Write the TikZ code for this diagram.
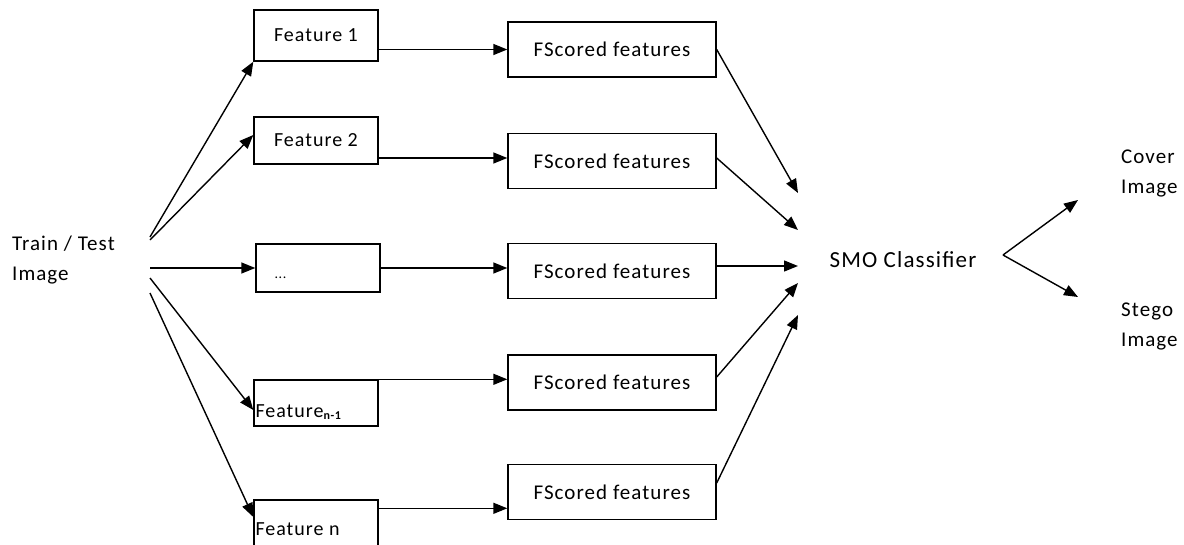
\documentclass[tikz,border=0pt]{standalone}
\usepackage{fontspec}
\setmainfont{Carlito}[LetterSpace=5]
\usetikzlibrary{arrows.meta,calc}
\begin{document}
\begin{tikzpicture}[x=1pt,y=-1pt,
  fbox/.style={draw,line width=1.4pt,inner sep=0pt,minimum width=124pt,font=\fontsize{20}{22}\selectfont},
  sbox/.style={draw,line width=1.4pt,inner sep=0pt,minimum width=208pt,minimum height=55pt,font=\fontsize{21}{24}\selectfont},
  lbl/.style={inner sep=0pt,align=left,font=\fontsize{21}{30}\selectfont},
  arr/.style={line width=1.4pt,-{Triangle[length=14pt,width=11pt]}}]
\useasboundingbox (0,0) rectangle (1184,544);
% input
\node[lbl,anchor=west] (train) at (12,260) {Train / Test\\Image};
% feature boxes
\node[fbox,minimum height=51pt] (F1) at (316,35.5) {Feature 1};
\node[fbox,minimum height=47pt] (F2) at (316,140.5) {Feature 2};
\node[fbox,minimum height=48pt] (F3) at (318,268) {};
\node[fbox,minimum height=46pt] (Fn1) at (316,403) {};
\node[fbox,minimum height=47pt] (Fn) at (316,523.5) {};
\node[inner sep=0pt,anchor=base west,font=\fontsize{14}{16}\selectfont] (F3t) at ($(F3.south west)+(19,-14)$) {...};
\node[inner sep=0pt,anchor=base west,font=\fontsize{20}{22}\selectfont] (Fn1t) at ($(Fn1.south west)+(2,-9)$) {Feature\raisebox{-2pt}{\fontsize{12}{12}\selectfont\bfseries n-1}};
\node[inner sep=0pt,anchor=base west,font=\fontsize{20}{22}\selectfont] (Fnt) at ($(Fn.south west)+(2,-12)$) {Feature n};
% FScored boxes
\node[sbox] (FS1) at (612,49.5) {FScored features};
\node[sbox] (FS2) at (612,161) {FScored features};
\node[sbox] (FS3) at (612,271) {FScored features};
\node[sbox] (FS4) at (612,382.5) {FScored features};
\node[sbox] (FS5) at (612,492) {FScored features};
% classifier and outputs
\node[inner sep=0pt,font=\fontsize{23}{26}\selectfont] (smo) at (903,260) {SMO Classifier};
\node[lbl,anchor=west] (cover) at (1121,173) {Cover\\Image};
\node[lbl,anchor=west] (stego) at (1121,326) {Stego\\Image};
% train -> features
\draw[arr] ($(train.west)+(138,-23)$) -- (F1.south west);
\draw[arr] ($(train.west)+(138,-20)$) -- ($(F2.west)+(0,-5.5)$);
\draw[arr] ($(train.west)+(138,8)$) -- (F3.west);
\draw[arr] ($(train.west)+(138,18)$) -- ($(Fn1.west)+(0,7)$);
\draw[arr] ($(train.west)+(138,33)$) -- ($(Fn.west)+(0,-6.5)$);
% features -> FScored
\draw[arr] (F1.east |- FS1.west) -- (FS1.west);
\draw[arr] ($(F2.east |- FS2.west)+(0,-3)$) -- ($(FS2.west)+(0,-3)$);
\draw[arr] (F3.east) -- (F3.east -| FS3.west);
\draw[arr] (Fn1.north east) -- (Fn1.north east -| FS4.west);
\coordinate (fnr) at ($(Fn.north east)+(0,9)$);
\draw[arr] (fnr) -- (fnr -| FS5.west);
% FScored -> SMO
\draw[arr] (FS1.east) -- ($(smo.center)+(-105,-67)$);
\draw[arr] ($(FS2.east)+(0,-3)$) -- ($(smo.center)+(-105,-30)$);
\draw[arr] ($(FS3.east)+(0,-5)$) -- ($(smo.center)+(-105,6)$);
\draw[arr] ($(FS4.east)+(0,-5.5)$) -- ($(smo.center)+(-105,23)$);
\draw[arr] ($(FS5.east)+(0,-9)$) -- ($(smo.center)+(-105,55)$);
% SMO -> outputs
\draw[arr] ($(smo.center)+(100,-5)$) -- ($(smo.center)+(175,-60)$);
\draw[arr] ($(smo.center)+(100,-5)$) -- ($(smo.center)+(175,37)$);
\end{tikzpicture}
\end{document}
